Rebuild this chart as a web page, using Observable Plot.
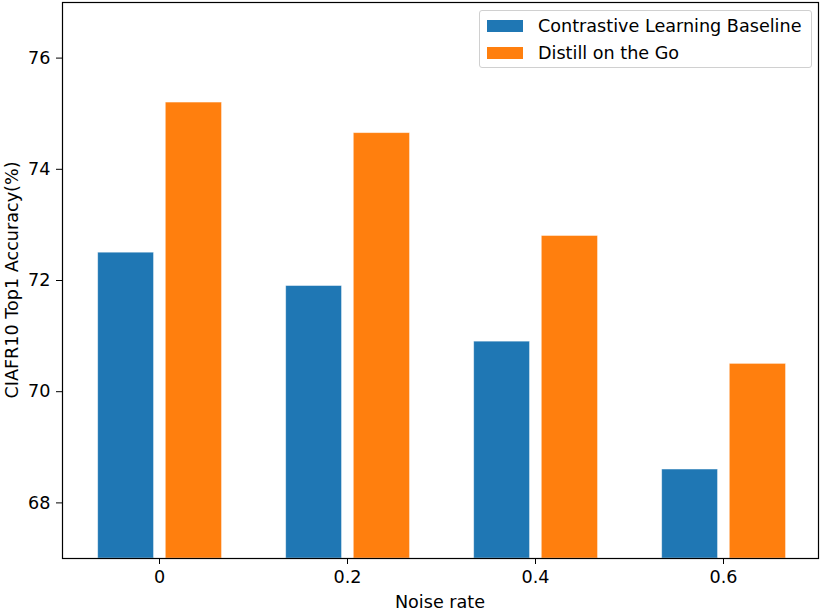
<!DOCTYPE html>
<html>
<head>
<meta charset="utf-8">
<script src="https://cdn.jsdelivr.net/npm/d3@7"></script>
<script src="https://cdn.jsdelivr.net/npm/@observablehq/plot@0.6"></script>
<style>
  html, body { margin: 0; padding: 0; background: #fff; }
  #wrap { position: relative; width: 822px; height: 616px; font-family: "DejaVu Sans", sans-serif; }
  #legend { position: absolute; left: 479px; top: 10px; width: 333px; height: 58px; border: 1px solid #d0d0d0; border-radius: 3px; background: rgba(255,255,255,0.8); box-sizing: border-box; }
  .item { position: absolute; left: 7px; height: 14px; display: flex; align-items: center; font-size: 17.6px; color: #000; white-space: nowrap; }
  .sw { width: 36px; height: 12px; margin-right: 15px; }
</style>
</head>
<body>
<div id="wrap"></div>
<script>
const noiseRates = ["0", "0.2", "0.4", "0.6"];
const seriesNames = ["Contrastive Learning Baseline", "Distill on the Go"];
const baselineValues = [72.5, 71.9, 70.9, 68.6];
const distillValues = [75.2, 74.65, 72.8, 70.5];
const yTicks = [68, 70, 72, 74, 76];
const colors = ["#1f77b4", "#ff7f0e"];

const baseline = noiseRates.map((n, i) => ({noise: n, value: baselineValues[i], series: seriesNames[0]}));
const distill = noiseRates.map((n, i) => ({noise: n, value: distillValues[i], series: seriesNames[1]}));

const FS = 17.6;

const chart = Plot.plot({
  width: 822,
  height: 616,
  marginLeft: 62,
  marginRight: 4,
  marginTop: 2,
  marginBottom: 58,
  style: {fontFamily: "DejaVu Sans, sans-serif", fontSize: FS + "px", color: "#000", background: "#fff"},
  x: {domain: noiseRates, padding: 0, range: [64, 818], label: null},
  y: {domain: [67, 77], label: null},
  color: {domain: seriesNames, range: colors},
  marks: [
    Plot.barY(baseline, {x: "noise", y1: 67, y2: "value", fill: "series", stroke: "#ffffff", strokeOpacity: 0.5, strokeWidth: 0.8, insetLeft: 32.7, insetRight: 99.5}),
    Plot.barY(distill, {x: "noise", y1: 67, y2: "value", fill: "series", stroke: "#ffffff", strokeOpacity: 0.5, strokeWidth: 0.8, insetLeft: 100.3, insetRight: 31.5}),
    Plot.axisY({ticks: yTicks, tickSize: 6, tickPadding: 6, label: null, fontSize: FS}),
    Plot.axisX({tickSize: 6, tickPadding: 6, label: null, fontSize: FS}),
    Plot.frame({stroke: "#000", strokeWidth: 1.2})
  ]
});

const wrap = document.getElementById("wrap");
wrap.appendChild(chart);

// axis titles
const svg = d3.select(chart);
svg.append("text")
  .attr("x", (62 + 818) / 2).attr("y", 608)
  .attr("text-anchor", "middle")
  .attr("font-size", FS).attr("fill", "#000")
  .text("Noise rate");
svg.append("text")
  .attr("transform", "translate(18," + ((2 + 558) / 2) + ") rotate(-90)")
  .attr("text-anchor", "middle")
  .attr("font-size", FS).attr("fill", "#000")
  .text("CIAFR10 Top1 Accuracy(%)");

// legend
const legend = document.createElement("div");
legend.id = "legend";
seriesNames.forEach((name, i) => {
  const it = document.createElement("div");
  it.className = "item";
  it.style.top = (i === 0 ? 8 : 35) + "px";
  const sw = document.createElement("div");
  sw.className = "sw";
  sw.style.background = colors[i];
  const tx = document.createElement("span");
  tx.textContent = name;
  it.appendChild(sw);
  it.appendChild(tx);
  legend.appendChild(it);
});
wrap.appendChild(legend);
</script>
</body>
</html>
